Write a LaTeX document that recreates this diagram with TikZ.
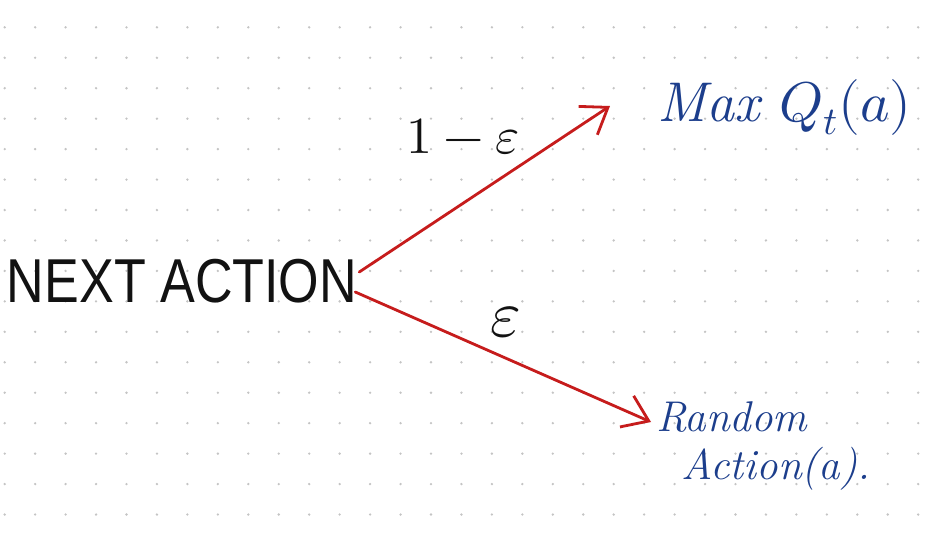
\documentclass[tikz,border=0pt]{standalone}
\usepackage{fontspec}
\usepackage{unicode-math}
\setmathfont{Latin Modern Math}
\usetikzlibrary{arrows.meta}
\newfontfamily\handsans{Liberation Sans}
\definecolor{arrowred}{RGB}{198,28,28}
\definecolor{inkblue}{RGB}{28,62,140}
\definecolor{dotgray}{RGB}{196,196,196}
\definecolor{inkblack}{RGB}{18,18,18}
\begin{document}
\begin{tikzpicture}[x=1pt,y=-1pt,
  conn/.style={draw=arrowred, line width=2.8pt, line cap=round,
    -{Straight Barb[length=24pt,width=34pt,line width=2.8pt]}},
  blackink/.style={text=inkblack, inner sep=0pt},
  blueink/.style={text=inkblue, inner sep=0pt, align=left}]
\useasboundingbox (0,0) rectangle (932,542);
\fill[white] (0,0) rectangle (932,542);
\foreach \i in {0,...,30}{
  \foreach \j in {0,...,16}{
    \fill[dotgray] (4.7+\i*30.45, 27.3+\j*30.45) circle[radius=1.3pt];
  }
}
% nodes
\node[blackink, font=\handsans\fontsize{62}{62}\selectfont] (na) at (182,281)
  {\scalebox{0.84}[1]{NEXT ACTION}};
\node[blueink, font=\fontsize{56}{56}\selectfont, anchor=base west] (mq) at (657,121)
  {\textit{Max} $Q_t(a)$};
\node[blueink, font=\fontsize{43}{48}\selectfont, anchor=north west] (ra) at (656,401)
  {\textit{Random}\\\hspace*{25pt}\textit{Action(a).}};
\coordinate (tipA) at (610,106);
\coordinate (tipB) at (651,422);
% connectors
\draw[conn] ([xshift=2pt,yshift=9pt]na.east) -- (tipA);
\draw[conn] ([xshift=-2pt,yshift=-11pt]na.east) -- (tipB);
% labels
\node[blackink, font=\fontsize{52}{52}\selectfont] (l1) at (463,137) {$1-\varepsilon$};
\node[blackink, font=\fontsize{66}{66}\selectfont] (l2) at (506,322) {$\varepsilon$};
\end{tikzpicture}
\end{document}
